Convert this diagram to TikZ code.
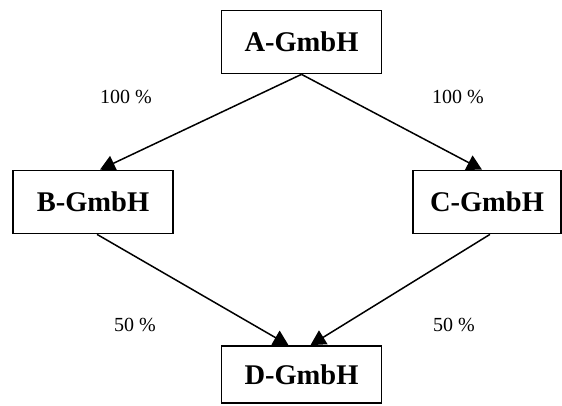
\documentclass[tikz,border=0pt]{standalone}
\usepackage{fontspec}
\setmainfont{Liberation Serif}
\usetikzlibrary{arrows.meta}
\begin{document}
\begin{tikzpicture}[x=1pt,y=-1pt,
  box/.style={draw, line width=1.7pt, minimum width=160pt, minimum height=63pt, inner sep=0pt,
              font=\bfseries\fontsize{28.5}{30}\selectfont},
  lbl/.style={font=\fontsize{20}{22}\selectfont, inner sep=0pt},
  conn/.style={line width=1.5pt, -{Triangle[length=15pt,width=16pt]}}]
\useasboundingbox (0,0) rectangle (562,405);
\node[box] (A) at (301.5,42) {A-GmbH};
\node[box] (B) at (93,202) {B-GmbH};
\node[box, minimum width=148pt] (C) at (487,202) {C-GmbH};
\node[box, minimum height=57pt] (D) at (301.5,374.5) {D-GmbH};
\node[lbl] (l1) at (126,97) {100 \%};
\node[lbl] (l2) at (458,97) {100 \%};
\node[lbl] (l3) at (135,325) {50 \%};
\node[lbl] (l4) at (454,325) {50 \%};
\draw[conn] (A.south) -- ([xshift=7pt]B.north);
\draw[conn] (A.south) -- ([xshift=-5pt]C.north);
\draw[conn] ([xshift=4pt]B.south) -- ([xshift=-13pt]D.north);
\draw[conn] ([xshift=3pt]C.south) -- ([xshift=9pt]D.north);
\end{tikzpicture}
\end{document}
